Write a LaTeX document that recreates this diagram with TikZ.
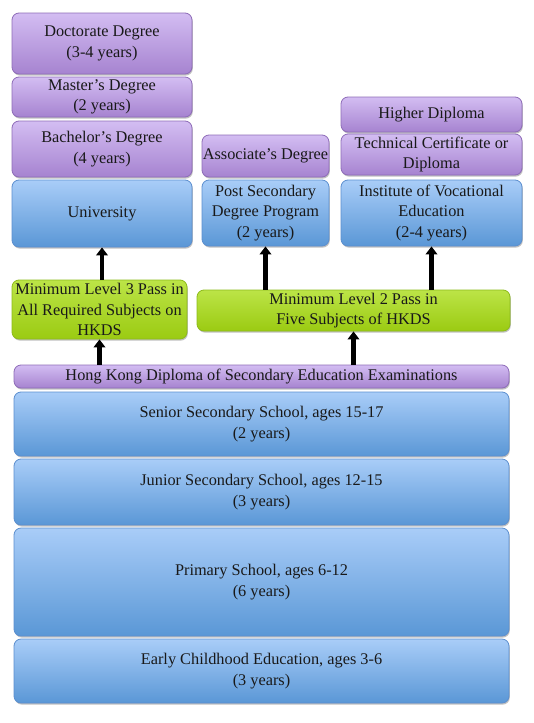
\documentclass[tikz,border=0pt]{standalone}
\usepackage{fontspec}
\setmainfont{Liberation Serif}
\usetikzlibrary{arrows.meta,shadows}
\definecolor{purT}{HTML}{D3BDF2}
\definecolor{purB}{HTML}{A683D0}
\definecolor{purD}{HTML}{8E6CB8}
\definecolor{bluT}{HTML}{A9CDF8}
\definecolor{bluB}{HTML}{5A97D6}
\definecolor{bluD}{HTML}{5C8FCF}
\definecolor{grnT}{HTML}{BCE447}
\definecolor{grnB}{HTML}{9BCB12}
\definecolor{grnD}{HTML}{8DBB1A}
\tikzset{
  base/.style={rounded corners=7pt, line width=0.8pt, align=center, inner sep=0pt,
    font=\fontsize{16.3}{20.5}\selectfont, text=black!90,
    drop shadow={shadow xshift=0.8pt, shadow yshift=-1.6pt, opacity=0.35, fill=black!70}},
  pur/.style={base, draw=purD, top color=purT, bottom color=purB},
  blu/.style={base, draw=bluD, top color=bluT, bottom color=bluB},
  grn/.style={base, draw=grnD, top color=grnT, bottom color=grnB},
  box/.style 2 args={minimum width=#1, minimum height=#2},
  arr/.style={line width=4.6pt, -{Triangle[width=11.5pt,length=8pt]}, black}
}
\begin{document}
\begin{tikzpicture}[x=1pt,y=-1pt]
\useasboundingbox[fill=white] (0,0) rectangle (533,723);
% university column
\node[pur, box={180pt}{61pt}] (doc) at (102,43.5) {Doctorate Degree\\(3-4 years)};
\node[pur, box={180pt}{40pt}] (mast) at (102,97) {Master’s Degree\\(2 years)};
\node[pur, box={180pt}{56pt}] (bach) at (102,149) {Bachelor’s Degree\\(4 years)};
\node[blu, box={180pt}{67pt}] (univ) at (102,213.5) {University};
% post secondary column
\node[pur, box={127pt}{42pt}] (assoc) at (265.5,156) {Associate’s Degree};
\node[blu, box={127pt}{66pt}] (psd) at (265.5,213) {Post Secondary\\Degree Program\\(2 years)};
% vocational column
\node[pur, box={181pt}{35pt}] (hd) at (431.5,114.5) {Higher Diploma};
\node[pur, box={181pt}{41pt}] (tc) at (431.5,154.5) {Technical Certificate or\\Diploma};
\node[blu, box={181pt}{66pt}] (ive) at (431.5,213) {Institute of Vocational\\Education\\(2-4 years)};
% requirements
\node[grn, box={175pt}{59pt}] (g1) at (99.5,309.5) {Minimum Level 3 Pass in\\All Required Subjects on\\HKDS};
\node[grn, box={313pt}{41pt}] (g2) at (353.5,310.5) {Minimum Level 2 Pass in\\Five Subjects of HKDS};
% exam
\node[pur, box={495pt}{23pt}] (hkdse) at (261.5,376.5) {Hong Kong Diploma of Secondary Education Examinations};
% schools
\node[blu, box={495pt}{64pt}] (senior) at (261.5,424) {Senior Secondary School, ages 15-17\\(2 years)};
\node[blu, box={495pt}{66pt}] (junior) at (261.5,492) {Junior Secondary School, ages 12-15\\(3 years)};
\node[blu, box={495pt}{108pt}] (primary) at (261.5,582) {Primary School, ages 6-12\\(6 years)};
\node[blu, box={495pt}{64pt}] (early) at (261.5,671) {Early Childhood Education, ages 3-6\\(3 years)};
% arrows
\draw[arr] (g1.north -| univ.south) -- (univ.south);
\draw[arr] (g2.north -| psd.south) -- (psd.south);
\draw[arr] (g2.north -| ive.south) -- (ive.south);
\draw[arr] (hkdse.north -| g1.south) -- (g1.south);
\draw[arr] (hkdse.north -| g2.south) -- (g2.south);
\end{tikzpicture}
\end{document}
